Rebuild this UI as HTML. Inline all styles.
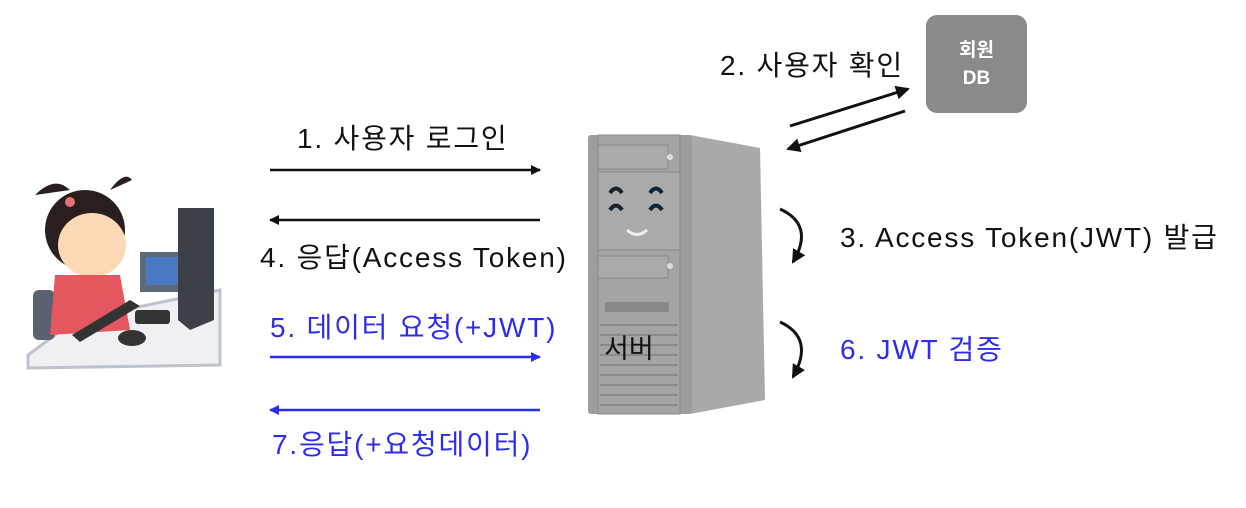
<!DOCTYPE html>
<html><head><meta charset="utf-8"><style>
body{margin:0;width:1246px;height:508px;background:#fff;overflow:hidden;position:relative;font-family:"Liberation Sans","Noto Sans CJK KR",sans-serif}
.t{position:absolute;font-size:28px;letter-spacing:1.8px;white-space:nowrap;color:#111;line-height:1}
.b{color:#2d2df2}
</style></head><body>
<svg width="1246" height="508" style="position:absolute;left:0;top:0">
<defs>
<marker id="ak" markerWidth="10" markerHeight="10" refX="9" refY="5" orient="auto" markerUnits="userSpaceOnUse"><path d="M0,0 L10,5 L0,10 Z" fill="#111"/></marker>
<marker id="ab" markerWidth="10" markerHeight="10" refX="9" refY="5" orient="auto" markerUnits="userSpaceOnUse"><path d="M0,0 L10,5 L0,10 Z" fill="#2d2df2"/></marker>
<marker id="ac" markerWidth="14" markerHeight="14" refX="12" refY="7" orient="auto" markerUnits="userSpaceOnUse"><path d="M0,0 L14,7 L0,14 Z" fill="#111"/></marker>
</defs>
<g stroke-width="2.5" fill="none">
<line x1="270" y1="170" x2="540" y2="170" stroke="#111" marker-end="url(#ak)"/>
<line x1="540" y1="220" x2="270" y2="220" stroke="#111" marker-end="url(#ak)"/>
<line x1="270" y1="357" x2="540" y2="357" stroke="#2d2df2" marker-end="url(#ab)"/>
<line x1="540" y1="410" x2="270" y2="410" stroke="#2d2df2" marker-end="url(#ab)"/>
<line x1="790" y1="126" x2="908" y2="89" stroke="#111" stroke-width="3" marker-end="url(#ac)"/>
<line x1="905" y1="111" x2="788" y2="149" stroke="#111" stroke-width="3" marker-end="url(#ac)"/>
<path d="M780,209 Q815,225 793,262" stroke="#111" stroke-width="3" marker-end="url(#ac)"/>
<path d="M780,322 Q815,338 793,377" stroke="#111" stroke-width="3" marker-end="url(#ac)"/>
</g>
<rect x="926" y="15" width="101" height="98" rx="11" fill="#8a8a8a"/>
<path d="M690,135 L760,148 L765,400 L690,414 Z" fill="#a9a9a9"/>
<rect x="588" y="135" width="104" height="279" rx="3" fill="#9d9d9d"/>
<rect x="598" y="135" width="82" height="279" fill="#a4a4a4" stroke="#8a8a8a"/>
<rect x="598" y="145" width="70" height="24" fill="#aaa" stroke="#888"/>
<circle cx="670" cy="157" r="3" fill="#ddd"/>
<rect x="598" y="172" width="82" height="78" fill="#aaa" stroke="#888"/>
<path d="M610,193 q6,-9 12,0 M650,193 q6,-9 12,0 M610,210 q6,-9 12,0 M650,210 q6,-9 12,0" stroke="#123" stroke-width="4" fill="none"/>
<path d="M627,230 q10,9 20,0" stroke="#eee" stroke-width="3" fill="none"/>
<rect x="598" y="256" width="70" height="22" fill="#aaa" stroke="#888"/>
<circle cx="670" cy="266" r="3" fill="#ddd"/>
<rect x="605" y="302" width="64" height="10" fill="#888"/>
<g stroke="#8a8a8a" stroke-width="2">
<line x1="600" y1="325" x2="678" y2="325"/><line x1="600" y1="335" x2="678" y2="335"/><line x1="600" y1="345" x2="678" y2="345"/><line x1="600" y1="355" x2="678" y2="355"/><line x1="600" y1="365" x2="678" y2="365"/><line x1="600" y1="375" x2="678" y2="375"/><line x1="600" y1="385" x2="678" y2="385"/><line x1="600" y1="395" x2="678" y2="395"/><line x1="600" y1="405" x2="678" y2="405"/>
</g>
<path d="M28,355 L75,320 L220,290 L220,365 L28,368 Z" fill="#eef0f4" stroke="#bcc3cc" stroke-width="3"/>
<rect x="33" y="290" width="22" height="50" rx="6" fill="#5a6270"/>
<ellipse cx="85" cy="230" rx="40" ry="40" fill="#2a1f1f"/>
<path d="M35,195 q20,-20 35,-5 z M110,190 q15,-20 22,-10 z" fill="#2a1f1f"/>
<ellipse cx="92" cy="245" rx="34" ry="32" fill="#fbd9b4"/>
<circle cx="70" cy="202" r="5" fill="#e8707a"/>
<path d="M55,275 L120,275 L130,330 L50,335 Z" fill="#e4575f"/>
<rect x="140" y="252" width="50" height="40" fill="#5f6a78"/>
<rect x="146" y="257" width="40" height="28" fill="#4b78c4"/>
<path d="M178,208 L214,208 L214,320 L190,330 L178,320 Z" fill="#3c4148"/>
<path d="M72,335 L130,300 L140,306 L80,342 Z" fill="#333"/>
<rect x="135" y="310" width="35" height="14" rx="3" fill="#333"/>
<ellipse cx="132" cy="338" rx="14" ry="8" fill="#333"/>
</svg>
<div class="t" style="left:297px;top:125px">1. 사용자 로그인</div>
<div class="t" style="left:260px;top:244px">4. 응답(Access Token)</div>
<div class="t b" style="left:270px;top:314px">5. 데이터 요청(+JWT)</div>
<div class="t b" style="left:272px;top:431px">7.응답(+요청데이터)</div>
<div class="t" style="left:720px;top:52px">2. 사용자 확인</div>
<div class="t" style="left:840px;top:224px">3. Access Token(JWT) 발급</div>
<div class="t b" style="left:840px;top:336px">6. JWT 검증</div>
<div class="t" style="left:604px;top:336px;font-size:27px;letter-spacing:0">서버</div>
<div class="t" style="left:926px;top:37px;width:101px;text-align:center;color:#fff;font-weight:bold;font-size:19px;letter-spacing:0;line-height:28px">회원<br>DB</div>
</body></html>
